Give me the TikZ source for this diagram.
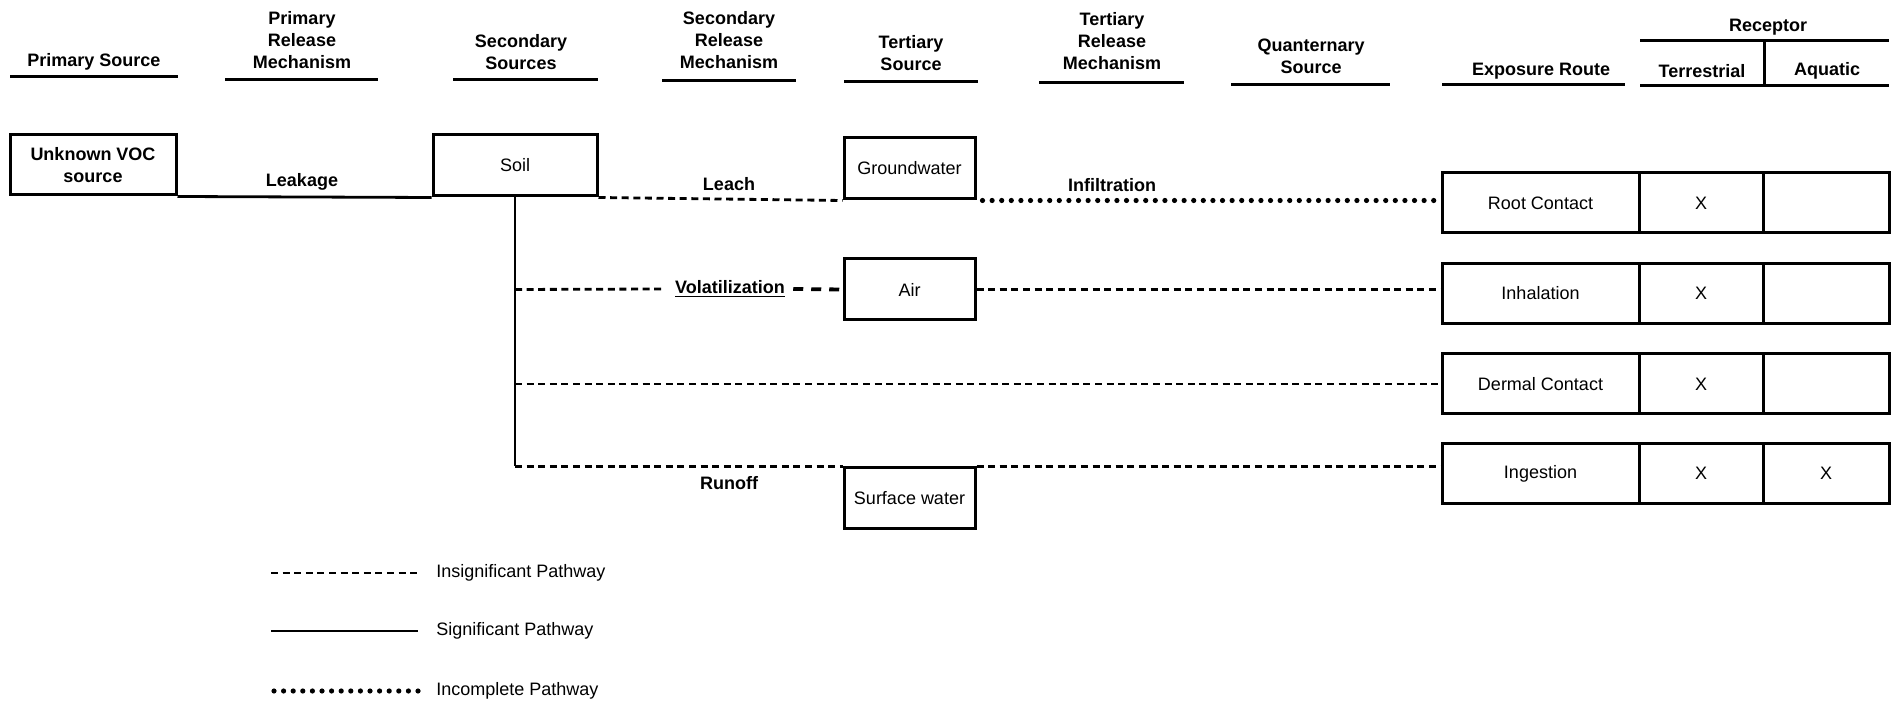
\documentclass[tikz,border=0pt]{standalone}
\usepackage{fontspec}
\setmainfont{Liberation Sans}
\begin{document}
\begin{tikzpicture}[x=0.5pt,y=-0.5pt,
  hd/.style={font=\bfseries\fontsize{9}{11}\selectfont, align=center, inner sep=0pt},
  lbl/.style={font=\bfseries\fontsize{9}{11}\selectfont, inner sep=0pt},
  txt/.style={font=\fontsize{9}{11}\selectfont, inner sep=0pt, anchor=west},
  bx/.style={draw, line width=1.5pt, inner sep=0pt, align=center, font=\fontsize{9}{11}\selectfont},
  uline/.style={line width=1.5pt},
  sig/.style={line width=1.4pt},
  insig/.style={line width=1.4pt, dash pattern=on 3.5pt off 2.3pt},
  incomp/.style={line width=2.6pt, line cap=round, dash pattern=on 0pt off 4.8pt},
]
\useasboundingbox (0,0) rectangle (1895,704);

% headers
\node[hd] (h1) at (94,62) {Primary Source};
\node[hd] (h2) at (302,40) {Primary\\Release\\Mechanism};
\node[hd] (h3) at (521,52) {Secondary\\Sources};
\node[hd] (h4) at (729,40) {Secondary\\Release\\Mechanism};
\node[hd] (h5) at (911,53) {Tertiary\\Source};
\node[hd] (h6) at (1112,41) {Tertiary\\Release\\Mechanism};
\node[hd] (h7) at (1311,56) {Quanternary\\Source};
\node[hd] (h8) at (1541,71) {Exposure Route};
\node[hd] (h9) at (1768,27) {Receptor};
\node[hd] (h10) at (1702,71) {Terrestrial};
\node[hd] (h11) at (1827,71) {Aquatic};

\draw[uline] (10,77) -- (178,77);
\draw[uline] (225,80) -- (378,80);
\draw[uline] (453,80) -- (598,80);
\draw[uline] (662,81) -- (796,81);
\draw[uline] (844,82) -- (978,82);
\draw[uline] (1039,83) -- (1184,83);
\draw[uline] (1231,85) -- (1390,85);
\draw[uline] (1442,85) -- (1625,85);
\draw[uline] (1640,86) -- (1889,86);
\draw[uline] (1640,41) -- (1889,41);
\draw[uline] (1764,41) -- (1764,87);

% source boxes
\node[bx, font=\bfseries\fontsize{9}{11}\selectfont, minimum width=83pt, minimum height=30pt] (voc) at (93,165) {Unknown VOC\\source};
\node[bx, minimum width=82pt, minimum height=30.5pt] (soil) at (515,165.5) {Soil};
\node[bx, minimum width=65.5pt, minimum height=30.5pt] (gw) at (909.5,168.5) {Groundwater};
\node[bx, minimum width=65.5pt, minimum height=30.5pt] (air) at (909.5,289.5) {Air};
\node[bx, minimum width=65.5pt, minimum height=30.5pt] (sw) at (909.5,498.5) {Surface water};

% exposure table
\foreach \n/\t/\y/\a in {r1/Root Contact/203/, r2/Inhalation/293.5/, r3/Dermal Contact/384/, r4/Ingestion/473.5/X}{
  \node[bx, minimum width=98.5pt, minimum height=30pt] (\n e) at (1540.5,\y) {\t};
  \node[bx, minimum width=62pt, minimum height=30pt] (\n t) at (1701,\y) {X};
  \node[bx, minimum width=63pt, minimum height=30pt] (\n a) at (1826,\y) {\a};
}

% labels
\node[lbl] (leak) at (302,182) {Leakage};
\node[lbl] (leach) at (729,184) {Leach};
\node[lbl] (infil) at (1112,185) {Infiltration};
\node[lbl] (vol) at (730,289) {\underline{Volatilization}};
\node[lbl] (run) at (729,483) {Runoff};

% branch points
\coordinate (v2) at (soil.south |- air.west);
\coordinate (v3) at (soil.south |- r3e.west);
\coordinate (vb) at (soil.south |- sw.north);

% connectors
\draw[sig] (voc.south east) -- (soil.south west);
\draw[sig] (soil.south) -- (vb);
\draw[insig] (soil.south east) -- (gw.south west);
\draw[incomp] ([xshift=3pt]gw.south east) -- (gw.south east -| r1e.west);
\draw[insig] (v2) -- ([xshift=-6pt]vol.west);
\draw[insig, line width=1.9pt, dash pattern=on 5pt off 4pt] ([xshift=4pt]vol.east) -- (air.west);
\draw[insig] (air.east) -- (air.east -| r2e.west);
\draw[insig] (v3) -- (r3e.west);
\draw[insig] (vb) -- (sw.north west);
\draw[insig] (sw.north east) -- (sw.north east -| r4e.west);

% legend
\node[txt] (lg1) at (436,573) {Insignificant Pathway};
\node[txt] (lg2) at (436,631) {Significant Pathway};
\node[txt] (lg3) at (436,691) {Incomplete Pathway};
\coordinate (l1) at (271,573);
\coordinate (l2) at (271,631);
\coordinate (l3) at (274,691);
\draw[insig] (l1) -- ([xshift=-9pt]lg1.west);
\draw[sig] (l2) -- ([xshift=-9pt]lg2.west);
\draw[incomp] (l3) -- ([xshift=-6pt]lg3.west);
\end{tikzpicture}
\end{document}
